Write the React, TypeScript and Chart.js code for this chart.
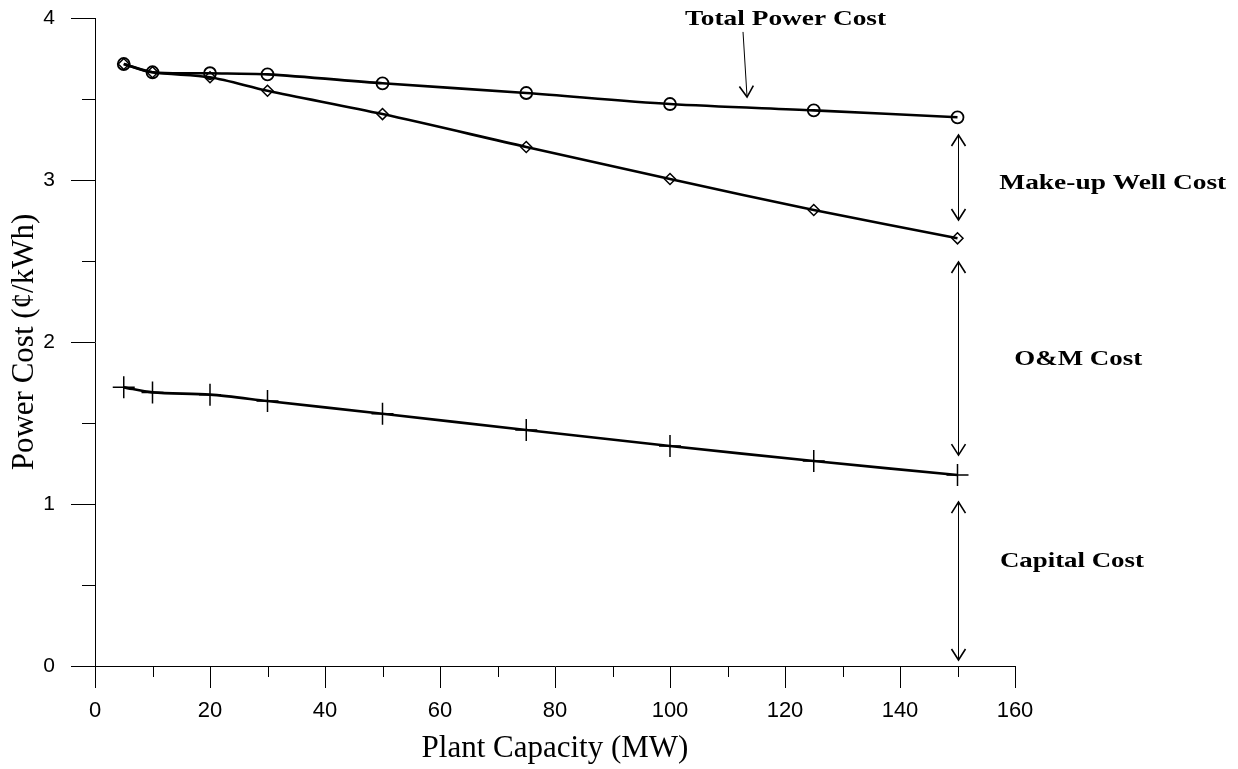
import React, { useEffect, useRef } from "react";
import { Chart, registerables } from "chart.js";

Chart.register(...registerables);

// ---- data ----
const capacityMW = [5, 10, 20, 30, 50, 75, 100, 125, 150];
const totalPowerCost = [3.716, 3.665, 3.659, 3.652, 3.597, 3.537, 3.469, 3.43, 3.387];
const capitalPlusOMCost = [3.716, 3.665, 3.634, 3.551, 3.407, 3.204, 3.006, 2.815, 2.64];
const capitalCost = [1.72, 1.689, 1.675, 1.636, 1.557, 1.457, 1.358, 1.265, 1.179];

const xMin = 0;
const xMax = 160;
const yMin = 0;
const yMax = 4;
const xMinorTicks = [10, 30, 50, 70, 90, 110, 130, 150];
const yMinorTicks = [0.5, 1.5, 2.5, 3.5];

// ---- annotations (data coordinates) ----
const pointerArrowFrom = [112.7, 3.914];
const pointerArrowTo = [113.4, 3.512];
const spanArrowX = 150;
const spanArrowTops = [3.278, 2.494, 1.012];
const spanArrowBottoms = [2.753, 1.302, 0.037];
const noteTexts = ["Total Power Cost", "Make-up Well Cost", "O&M Cost", "Capital Cost"];
const noteX = [120.1, 177.0, 171.0, 169.9];
const noteY = [3.957, 2.944, 1.858, 0.611];
const noteWidthPx = [201, 227, 128, 144];

function drawHead(ctx: CanvasRenderingContext2D, fx: number, fy: number, tx: number, ty: number) {
  const len = 11;
  const half = 7;
  const ang = Math.atan2(ty - fy, tx - fx);
  const bx = tx - len * Math.cos(ang);
  const by = ty - len * Math.sin(ang);
  const nx = -Math.sin(ang);
  const ny = Math.cos(ang);
  ctx.beginPath();
  ctx.moveTo(bx + nx * half, by + ny * half);
  ctx.lineTo(tx, ty);
  ctx.lineTo(bx - nx * half, by - ny * half);
  ctx.stroke();
}

const overlayPlugin = {
  id: "overlay",
  afterDraw(chart: any) {
    const { ctx, chartArea } = chart;
    const xs = chart.scales.x;
    const ys = chart.scales.y;
    ctx.save();
    ctx.strokeStyle = "#000";
    ctx.lineWidth = 1;
    // minor ticks
    xMinorTicks.forEach((v) => {
      const px = Math.round(xs.getPixelForValue(v)) + 0.5;
      ctx.beginPath();
      ctx.moveTo(px, chartArea.bottom);
      ctx.lineTo(px, chartArea.bottom + 11);
      ctx.stroke();
    });
    yMinorTicks.forEach((v) => {
      const py = Math.round(ys.getPixelForValue(v)) + 0.5;
      ctx.beginPath();
      ctx.moveTo(chartArea.left - 13, py);
      ctx.lineTo(chartArea.left, py);
      ctx.stroke();
    });

    // pointer arrow
    const fx = xs.getPixelForValue(pointerArrowFrom[0]);
    const fy = ys.getPixelForValue(pointerArrowFrom[1]);
    const tx = xs.getPixelForValue(pointerArrowTo[0]);
    const ty = ys.getPixelForValue(pointerArrowTo[1]);
    ctx.lineWidth = 1;
    ctx.beginPath();
    ctx.moveTo(fx, fy);
    ctx.lineTo(tx, ty);
    ctx.stroke();
    ctx.lineWidth = 1.6;
    drawHead(ctx, fx, fy, tx, ty);

    // span arrows
    const ax = Math.round(xs.getPixelForValue(spanArrowX)) + 0.5;
    spanArrowTops.forEach((top, i) => {
      const y1 = ys.getPixelForValue(top);
      const y2 = ys.getPixelForValue(spanArrowBottoms[i]);
      ctx.lineWidth = 1;
      ctx.beginPath();
      ctx.moveTo(ax, y1);
      ctx.lineTo(ax, y2);
      ctx.stroke();
      ctx.lineWidth = 1.6;
      drawHead(ctx, ax, y2, ax, y1);
      drawHead(ctx, ax, y1, ax, y2);
    });

    // notes
    ctx.fillStyle = "#000";
    ctx.font = 'bold 21px "Liberation Serif", "Times New Roman", serif';
    ctx.textAlign = "center";
    ctx.textBaseline = "alphabetic";
    noteTexts.forEach((t, i) => {
      const w = ctx.measureText(t).width;
      const sx = noteWidthPx[i] / w;
      ctx.save();
      ctx.translate(xs.getPixelForValue(noteX[i]), ys.getPixelForValue(noteY[i]));
      ctx.scale(sx, 1);
      ctx.fillText(t, 0, 0);
      ctx.restore();
    });
    ctx.restore();
  },
};

export default function App() {
  const ref = useRef<HTMLCanvasElement | null>(null);

  useEffect(() => {
    if (!ref.current) return;
    const mk = (vals: number[]) => capacityMW.map((c, i) => ({ x: c, y: vals[i] }));
    const common = {
      borderColor: "#000",
      borderWidth: 2.6,
      pointBorderColor: "#000",
      pointBackgroundColor: "rgba(0,0,0,0)",
      tension: 0.3,
      fill: false,
    };
    const chart = new Chart(ref.current, {
      type: "line",
      data: {
        datasets: [
          {
            ...common,
            label: "Total Power Cost",
            data: mk(totalPowerCost),
            pointStyle: "circle",
            pointRadius: 6,
            pointBorderWidth: 1.8,
          },
          {
            ...common,
            label: "Capital + O&M Cost",
            data: mk(capitalPlusOMCost),
            pointStyle: "rectRot",
            pointRadius: 5.5,
            pointBorderWidth: 1.5,
          },
          {
            ...common,
            label: "Capital Cost",
            data: mk(capitalCost),
            pointStyle: "cross",
            pointRadius: 11,
            pointBorderWidth: 1.5,
          },
        ],
      },
      options: {
        responsive: false,
        animation: false,
        devicePixelRatio: 1,
        layout: { padding: { top: 18, right: 223, left: 0, bottom: 0 } },
        plugins: {
          legend: { display: false },
          tooltip: { enabled: false },
        },
        scales: {
          x: {
            type: "linear",
            min: xMin,
            max: xMax,
            afterFit: (s: any) => {
              s.height = 103;
              s.paddingTop = 0;
            },
            border: { display: true, color: "#000", width: 1 },
            grid: {
              display: true,
              drawOnChartArea: false,
              drawTicks: true,
              tickLength: 22,
              tickWidth: 1,
              tickColor: (c: any) => (c.tick && c.tick.value % 20 === 0 ? "#000" : "rgba(0,0,0,0)"),
            },
            ticks: {
              stepSize: 10,
              autoSkip: false,
              maxRotation: 0,
              padding: 10,
              color: "#000",
              font: { family: '"Liberation Sans", Arial, sans-serif', size: 22 },
              callback: (v: any) => (Number(v) % 20 === 0 ? String(v) : ""),
            },
            title: {
              display: true,
              text: "Plant Capacity (MW)",
              color: "#000",
              font: { family: '"Liberation Serif", "Times New Roman", serif', size: 31 },
              padding: { top: 0, bottom: 2 },
            },
          },
          y: {
            min: yMin,
            max: yMax,
            afterFit: (s: any) => {
              s.width = 95;
              s.paddingTop = 0;
              s.paddingBottom = 0;
            },
            border: { display: true, color: "#000", width: 1 },
            grid: {
              display: true,
              drawOnChartArea: false,
              drawTicks: true,
              tickLength: 24,
              tickWidth: 1,
              tickColor: (c: any) => (c.tick && Number.isInteger(c.tick.value) ? "#000" : "rgba(0,0,0,0)"),
            },
            ticks: {
              stepSize: 0.5,
              autoSkip: false,
              padding: 16,
              color: "#000",
              font: { family: '"Liberation Sans", Arial, sans-serif', size: 21 },
              callback: (v: any) => (Number.isInteger(Number(v)) ? String(v) : ""),
            },
            title: {
              display: true,
              text: "Power Cost (¢/kWh)",
              color: "#000",
              font: { family: '"Liberation Serif", "Times New Roman", serif', size: 31 },
              padding: { top: 6, bottom: 0 },
            },
          },
        },
      },
      plugins: [overlayPlugin],
    });
    return () => chart.destroy();
  }, []);

  return (
    <div style={{ position: "absolute", left: 0, top: 0, width: 1238, height: 769, background: "#fff" }}>
      <canvas ref={ref} width={1238} height={769} style={{ display: "block" }} />
    </div>
  );
}
